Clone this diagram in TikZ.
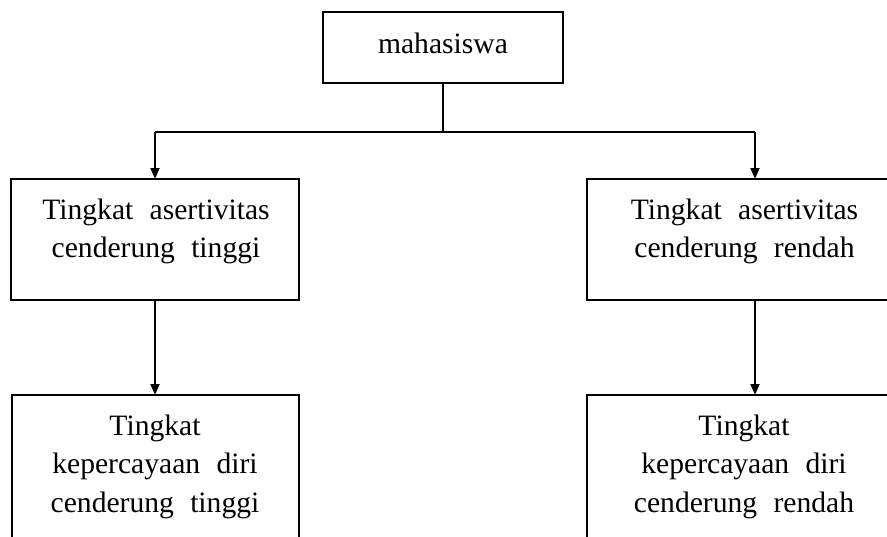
\documentclass[tikz,border=0pt]{standalone}
\usepackage{fontspec}
\setmainfont{Liberation Serif}
\usetikzlibrary{arrows.meta}
\newcommand{\gapw}{\hspace{0.55em}}
\begin{document}
\begin{tikzpicture}[x=1pt,y=1pt,
  box/.style={draw, line width=1.8pt, inner sep=0pt, outer sep=0pt},
  lbl/.style={font=\fontsize{29.6}{38.7}\selectfont, inner sep=0pt, anchor=base},
  conn/.style={line width=1.8pt},
  arr/.style={line width=1.8pt, -{Triangle[length=11pt,width=9pt]}}]
\useasboundingbox (0,0) rectangle (887,-536);
\clip (0,0) rectangle (887,-536);
% boxes
\node[box, minimum width=240pt, minimum height=71pt] (mhs) at (443,-47.5) {};
\node[box, minimum width=288pt, minimum height=121pt] (l1) at (155,-239.5) {};
\node[box, minimum width=313pt, minimum height=121pt] (r1) at (743.5,-239.5) {};
\node[box, minimum width=287pt, minimum height=160pt] (l2) at (155.5,-475) {};
\node[box, minimum width=313pt, minimum height=160pt] (r2) at (743.5,-475) {};
% texts
\node[lbl] (tmhs) at (443,-53) {mahasiswa};
\node[lbl] (tl1) at (156,-219) {\begin{tabular}[t]{@{}c@{}}Tingkat\gapw asertivitas\\cenderung\gapw tinggi\end{tabular}};
\node[lbl] (tr1) at (744.5,-219) {\begin{tabular}[t]{@{}c@{}}Tingkat\gapw asertivitas\\cenderung\gapw rendah\end{tabular}};
\node[lbl] (tl2) at (155,-435) {\begin{tabular}[t]{@{}c@{}}Tingkat\\kepercayaan\gapw diri\\cenderung\gapw tinggi\end{tabular}};
\node[lbl] (tr2) at (744,-435) {\begin{tabular}[t]{@{}c@{}}Tingkat\\kepercayaan\gapw diri\\cenderung\gapw rendah\end{tabular}};
% connectors
\coordinate (hub) at (443,-132);
\coordinate (lj) at (155,-132);
\coordinate (rj) at (755,-132);
\draw[line width=1.2pt] (mhs.south) -- (hub);
\draw[conn] (lj) -- (rj);
\draw[arr] (lj) -- (l1.north);
\draw[arr] (rj) -- (rj |- r1.north);
\draw[arr] (l1.south) -- (l1.south |- l2.north);
\draw[arr] (rj |- r1.south) -- (rj |- r2.north);
\end{tikzpicture}
\end{document}
